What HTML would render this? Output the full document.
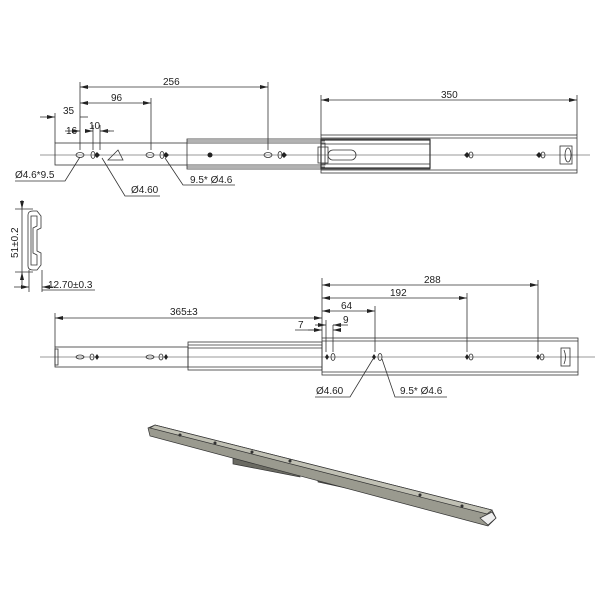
<!DOCTYPE html>
<html><head><style>body{margin:0;background:#fff}svg{display:block}text{font-family:"Liberation Sans",sans-serif;font-size:10px;fill:#222}</style></head>
<body>
<svg width="600" height="600" viewBox="0 0 600 600" xmlns="http://www.w3.org/2000/svg">
<defs>
<marker id="a" markerWidth="8" markerHeight="6" refX="8" refY="3" orient="auto-start-reverse" markerUnits="userSpaceOnUse"><path d="M0,1 L8,3 L0,5z" fill="#222"/></marker>
</defs>
<g stroke="#333" stroke-width="0.8" fill="none">
<line x1="40" y1="155" x2="590" y2="155" stroke-width="0.6"/>
<rect x="55" y="143" width="270" height="22"/>
<rect x="187" y="139" width="243" height="30"/>
<line x1="187" y1="141" x2="325" y2="141"/><line x1="187" y1="167" x2="325" y2="167"/>
<rect x="321" y="135" width="256" height="38"/>
<line x1="321" y1="138" x2="577" y2="138"/><line x1="321" y1="170" x2="577" y2="170"/>
<rect x="321" y="140" width="109" height="28" stroke-width="1.2"/>
<line x1="321" y1="144" x2="430" y2="144"/><line x1="321" y1="164" x2="430" y2="164"/>
<rect x="318" y="147" width="10" height="16"/>
<rect x="328" y="150" width="28" height="10" rx="5"/>
<ellipse cx="80" cy="155" rx="4" ry="2.5"/><ellipse cx="93" cy="155" rx="2" ry="3.5"/>
<ellipse cx="150" cy="155" rx="4" ry="2.5"/><ellipse cx="162" cy="155" rx="2" ry="3.5"/>
<ellipse cx="268" cy="155" rx="4" ry="2.5"/><ellipse cx="280" cy="155" rx="2" ry="3.5"/>
<ellipse cx="471" cy="155" rx="2" ry="3"/><ellipse cx="543" cy="155" rx="2" ry="3"/>
<path d="M108,160 L118,150 L123,160z"/>
<rect x="560" y="146" width="12" height="18"/><ellipse cx="568" cy="155" rx="3" ry="7"/>
<line x1="80" y1="82" x2="80" y2="150"/><line x1="268" y1="82" x2="268" y2="150"/>
<line x1="151" y1="98" x2="151" y2="150"/><line x1="55" y1="113" x2="55" y2="143"/>
<line x1="321" y1="95" x2="321" y2="135"/><line x1="577" y1="95" x2="577" y2="135"/>
<line x1="93" y1="125" x2="93" y2="150"/><line x1="100" y1="125" x2="100" y2="150"/>
<line x1="80" y1="87" x2="268" y2="87" marker-start="url(#a)" marker-end="url(#a)"/>
<line x1="80" y1="103" x2="151" y2="103" marker-start="url(#a)" marker-end="url(#a)"/>
<line x1="40" y1="117" x2="55" y2="117" marker-end="url(#a)"/><line x1="80" y1="117" x2="88" y2="117"/>
<line x1="65" y1="131" x2="80" y2="131" marker-end="url(#a)"/><line x1="85" y1="131" x2="93" y2="131" marker-end="url(#a)"/>
<line x1="110" y1="131" x2="100" y2="131" marker-end="url(#a)"/><line x1="100" y1="131" x2="114" y2="131"/>
<line x1="321" y1="100" x2="577" y2="100" marker-start="url(#a)" marker-end="url(#a)"/>
<path d="M15,181 L65,181 L80,157"/><path d="M102,158 L125,196 L160,196"/><path d="M165,158 L183,185 L235,185"/>
<path d="M28,215 Q28,211 33,211 L37,211 L41,216 L41,228 L37,230 L37,251 L41,253 L41,265 L37,270 L33,270 Q28,270 28,266z"/>
<path d="M31,216 L37,216 L37,226 L33,228 L33,253 L37,255 L37,265 L31,265z"/>
<line x1="15" y1="209" x2="33" y2="209"/><line x1="15" y1="272" x2="33" y2="272"/>
<line x1="22" y1="200" x2="22" y2="209" marker-end="url(#a)"/><line x1="22" y1="285" x2="22" y2="272" marker-end="url(#a)"/>
<line x1="22" y1="209" x2="22" y2="272"/>
<line x1="29" y1="270" x2="29" y2="292"/><line x1="42" y1="270" x2="42" y2="292"/>
<line x1="14" y1="287" x2="29" y2="287" marker-end="url(#a)"/><line x1="55" y1="287" x2="42" y2="287" marker-end="url(#a)"/>
<line x1="42" y1="290" x2="95" y2="290"/>
<line x1="40" y1="357" x2="595" y2="357" stroke-width="0.6"/>
<rect x="55" y="347" width="133" height="20"/>
<rect x="188" y="342" width="134" height="28"/>
<line x1="188" y1="345" x2="322" y2="345"/><line x1="188" y1="348" x2="322" y2="348"/><line x1="188" y1="367" x2="322" y2="367"/>
<rect x="322" y="338" width="256" height="37"/>
<line x1="322" y1="341" x2="578" y2="341"/><line x1="322" y1="372" x2="578" y2="372"/>
<rect x="55" y="349" width="3" height="16"/>
<ellipse cx="80" cy="357" rx="4" ry="2"/><ellipse cx="92" cy="357" rx="2" ry="3"/>
<ellipse cx="150" cy="357" rx="4" ry="2"/><ellipse cx="161" cy="357" rx="2" ry="3"/>
<ellipse cx="333" cy="357" rx="2" ry="3.5"/><ellipse cx="380" cy="357" rx="2" ry="3.5"/>
<ellipse cx="471" cy="357" rx="2" ry="3"/><ellipse cx="542" cy="357" rx="2" ry="3"/>
<rect x="561" y="348" width="9" height="18"/><path d="M564,350 Q567,357 564,364"/>
<line x1="55" y1="313" x2="55" y2="347"/><line x1="322" y1="278" x2="322" y2="338"/>
<line x1="333" y1="325" x2="333" y2="352"/><line x1="326" y1="320" x2="326" y2="352"/>
<line x1="375" y1="306" x2="375" y2="352"/><line x1="467" y1="293" x2="467" y2="352"/><line x1="538" y1="280" x2="538" y2="352"/>
<line x1="55" y1="318" x2="322" y2="318" marker-start="url(#a)" marker-end="url(#a)"/>
<line x1="322" y1="285" x2="538" y2="285" marker-start="url(#a)" marker-end="url(#a)"/>
<line x1="322" y1="298" x2="467" y2="298" marker-start="url(#a)" marker-end="url(#a)"/>
<line x1="322" y1="311" x2="375" y2="311" marker-start="url(#a)" marker-end="url(#a)"/>
<line x1="295" y1="330" x2="318" y2="330"/><line x1="308" y1="330" x2="322" y2="330" marker-end="url(#a)"/><line x1="340" y1="330" x2="333" y2="330" marker-end="url(#a)"/>
<line x1="315" y1="325" x2="326" y2="325" marker-end="url(#a)"/><line x1="340" y1="325" x2="333" y2="325" marker-end="url(#a)"/><line x1="333" y1="325" x2="348" y2="325"/>
<path d="M315,397 L350,397 L373,359"/><path d="M382,359 L395,397 L447,397"/>
</g>
<g fill="#222">
<path d="M97,152 L100,155 L97,158 L94,155z M166,152 L169,155 L166,158 L163,155z M284,152 L287,155 L284,158 L281,155z M467,152 L470,155 L467,158 L464,155z M539,152 L542,155 L539,158 L536,155z"/>
<circle cx="210" cy="155" r="2.5"/>
<path d="M97,354 L99,357 L97,360 L95,357z M166,354 L168,357 L166,360 L164,357z M327,354 L329,357 L327,360 L325,357z M374,354 L376,357 L374,360 L372,357z M467,354 L469,357 L467,360 L465,357z M538,354 L540,357 L538,360 L536,357z"/>
</g>
<g stroke="#333" stroke-width="0.7">
<polygon points="233,458 300,471 300,477 233,464" fill="#6a6a62"/>
<polygon points="318,476 392,492 392,498 318,482" fill="#5a5a52"/>
<polygon points="148,428 155,425 492,510 496,518 488,526 150,436" fill="#9a9a8f"/>
<polygon points="150,428 155,425 492,510 487,514" fill="#c0c0b4"/>
<polygon points="480,518 492,512 496,518 488,525" fill="#eee"/>
<circle cx="180" cy="435" r="1.2" fill="#333"/><circle cx="215" cy="443" r="1.2" fill="#333"/><circle cx="252" cy="452" r="1.2" fill="#333"/><circle cx="290" cy="461" r="1.2" fill="#333"/><circle cx="420" cy="495" r="1.2" fill="#333"/><circle cx="462" cy="506" r="1.2" fill="#333"/>
</g>
<text x="163" y="85">256</text><text x="111" y="101">96</text><text x="63" y="114">35</text>
<text x="66" y="134">16</text><text x="89" y="129">10</text><text x="441" y="98">350</text>
<text x="15" y="178">Ø4.6*9.5</text><text x="131" y="193">Ø4.60</text><text x="190" y="183">9.5* Ø4.6</text>
<text x="48" y="288">12.70±0.3</text>
<text transform="translate(18,258) rotate(-90)">51±0.2</text>
<text x="170" y="315">365±3</text><text x="424" y="283">288</text><text x="390" y="296">192</text>
<text x="341" y="309">64</text><text x="343" y="323">9</text><text x="298" y="328">7</text>
<text x="316" y="394">Ø4.60</text><text x="400" y="394">9.5* Ø4.6</text>
</svg>
</body></html>
